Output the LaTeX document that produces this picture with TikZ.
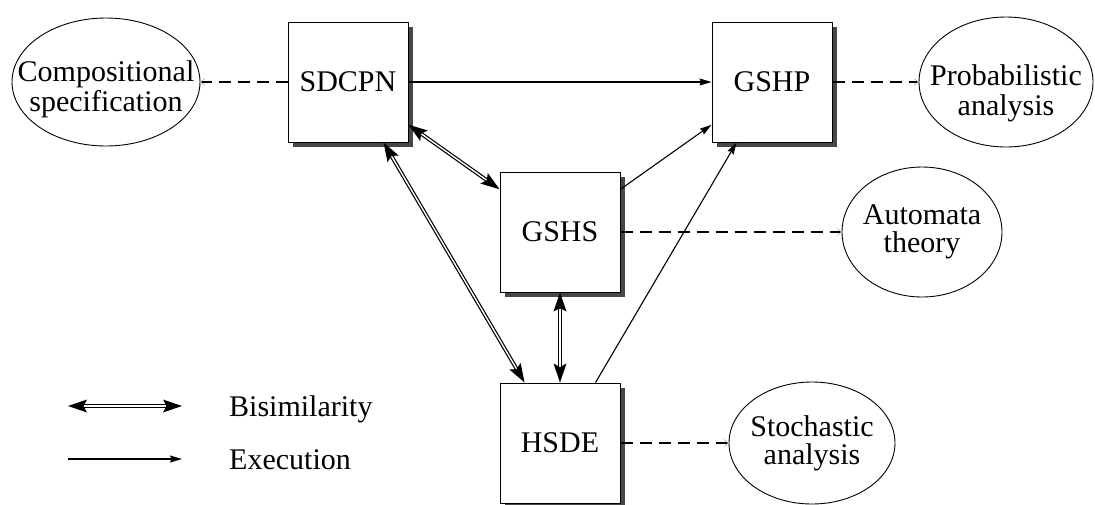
\documentclass[tikz,border=0pt]{standalone}
\usepackage{fontspec}
\setmainfont{Liberation Serif}
\usetikzlibrary{arrows.meta,shapes.geometric,shadows}
% a line of text that takes no width, so the ellipse keeps its given size
\newcommand\fieldline[1]{\makebox[0pt][c]{#1}}
\begin{document}
\begin{tikzpicture}[x=1pt,y=-1pt,
  every node/.style={font=\fontsize{30}{30}\selectfont},
  model/.style={draw, line width=1pt, fill=white, minimum width=120pt,
    minimum height=120pt, inner sep=0pt,
    drop shadow={shadow xshift=5pt, shadow yshift=-5pt, fill=black!72, opacity=1}},
  field/.style={draw, ellipse, line width=0.9pt, align=center, inner sep=0pt},
  tight/.style={font=\fontsize{30}{28}\selectfont},
  exec/.style={line width=1.1pt, -{Stealth[length=12pt,width=7pt,inset=1.5pt]}},
  bisim/.style={line width=3.8pt,
    {Stealth[length=19pt,width=13pt,inset=3.5pt,line width=0pt]}-{Stealth[length=19pt,width=13pt,inset=3.5pt,line width=0pt]},
    postaction={draw, white, line width=1.4pt, arrows=-, shorten <=16pt, shorten >=16pt}},
  link/.style={line width=1.2pt, dash pattern=on 12pt off 7pt,
    -{Straight Barb[length=4pt,width=7pt,line width=0.5pt,color=black!35]}}
]
\useasboundingbox (0,0) rectangle (1095,504);

% model boxes
\node[model] (sdcpn) at (348,82) {SDCPN};
\node[model] (gshp)  at (772,82) {GSHP};
\node[model] (gshs)  at (560,232) {GSHS};
\node[model] (hsde)  at (560,443) {HSDE};

% related fields
\node[field, minimum width=188pt, minimum height=128pt] (comp) at (106,82)
  {\rule{0pt}{35.5pt}\fieldline{Compositional}\\\fieldline{specification}};
\node[field, minimum width=174pt, minimum height=130pt] (prob) at (1006,82)
  {\rule{0pt}{42.5pt}\fieldline{Probabilistic}\\\fieldline{analysis}};
\node[field, tight, minimum width=160pt, minimum height=130pt] (auto) at (922,232)
  {\fieldline{Automata}\\\fieldline{theory}};
\node[field, tight, minimum width=166pt, minimum height=122pt] (stoch) at (812,443)
  {\fieldline{Stochastic}\\\fieldline{analysis}};

% execution
\draw[exec] (sdcpn) -- (gshp);
\draw[exec] (gshs) -- (gshp);
\draw[exec] (hsde) -- (gshp);

% bisimilarity
\draw[bisim] (sdcpn) -- (gshs);
\draw[bisim] (sdcpn) -- (hsde);
\draw[bisim] (gshs) -- (hsde);

% links to fields
\draw[link] (sdcpn.west) -- (comp.east);
\draw[link] (gshp.east) -- (prob.west);
\draw[link] (gshs.east) -- (auto.west);
\draw[link] (hsde.east) -- (stoch.west);

% legend
\coordinate (b1) at (68,406);
\coordinate (b2) at (182,406);
\coordinate (e1) at (68,459);
\coordinate (e2) at (182,459);
\draw[bisim] (b1) -- (b2);
\draw[exec] (e1) -- (e2);
\node[anchor=base west, inner sep=0pt] (bl) at (229,416.5) {Bisimilarity};
\node[anchor=base west, inner sep=0pt] (el) at (229,469.5) {Execution};
\end{tikzpicture}
\end{document}
